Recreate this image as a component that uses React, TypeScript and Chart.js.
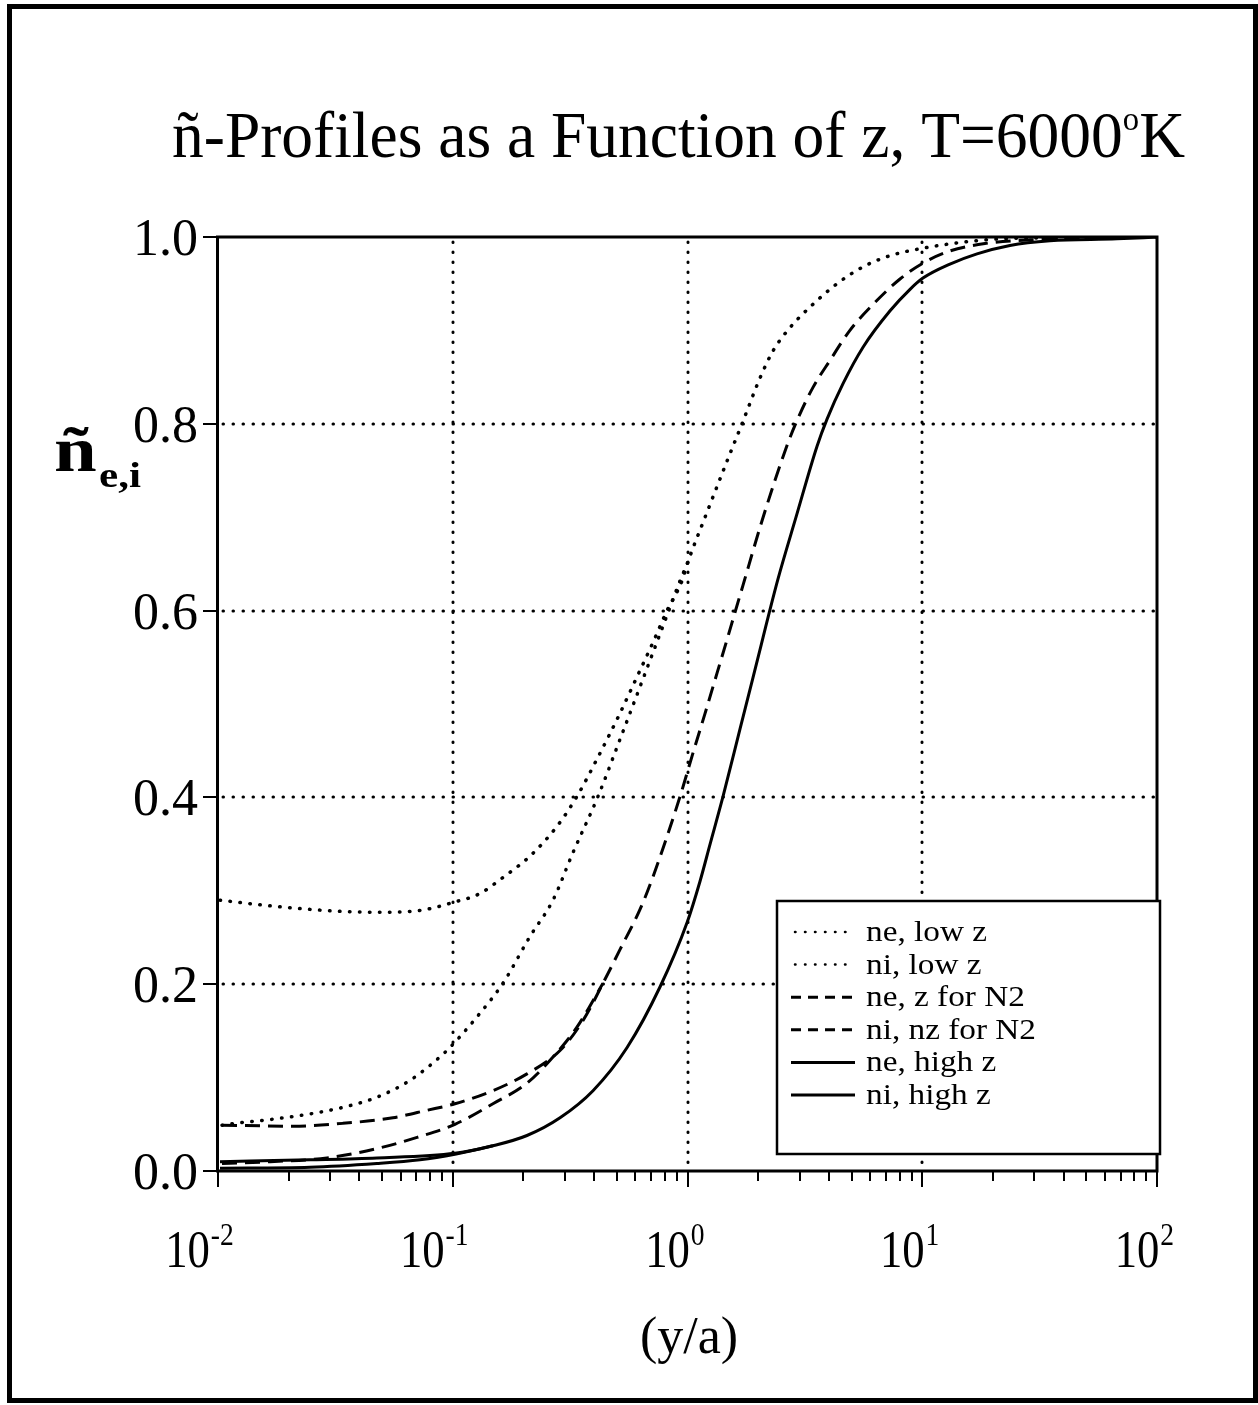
import React, { useEffect, useRef } from "react";
import { Chart, registerables } from "chart.js";

Chart.register(...registerables);

// ---------- data (x = y/a, value = ñ) ----------
// ni-series stop where they merge into the matching ne-series (identical beyond).
const neLowX = [0.0102, 0.0151, 0.0223, 0.0331, 0.0475, 0.0725, 0.102, 0.1305, 0.159, 0.213, 0.278, 0.338, 0.4115, 0.5155, 0.609, 0.713, 0.818, 0.948, 1.004, 1.188, 1.517, 1.707, 2.036, 2.313, 2.734, 3.325, 4.335, 5.594, 7.293, 10.07, 15.52, 21.43, 35.02, 100];
const neLowY = [0.290, 0.285, 0.281, 0.278, 0.277, 0.279, 0.288, 0.297, 0.312, 0.337, 0.369, 0.401, 0.441, 0.490, 0.529, 0.566, 0.600, 0.632, 0.652, 0.700, 0.768, 0.800, 0.849, 0.878, 0.903, 0.925, 0.950, 0.968, 0.980, 0.988, 0.995, 0.998, 0.999, 1.0];

const niLowX = [0.0104, 0.0110, 0.01784, 0.02723, 0.03648, 0.04753, 0.06573, 0.09082, 0.1022, 0.1268, 0.1636, 0.2132, 0.2673, 0.3253, 0.4156, 0.5155, 0.6466, 0.8184, 0.9296, 1.004];
const niLowY = [0.049, 0.050, 0.056, 0.063, 0.070, 0.079, 0.097, 0.125, 0.138, 0.165, 0.201, 0.251, 0.290, 0.341, 0.401, 0.462, 0.527, 0.595, 0.632, 0.652];

const neN2X = [0.0104, 0.02085, 0.03404, 0.05559, 0.07762, 0.1022, 0.1483, 0.2071, 0.2864, 0.3586, 0.4365, 0.5155, 0.6276, 0.7128, 0.9296, 1.045, 1.188, 1.336, 1.474, 1.593, 1.723, 2.076, 2.656, 2.957, 3.425, 4.048, 4.919, 6.29, 8.04, 10.07, 13.12, 18.49, 28.8, 100];
const neN2Y = [0.049, 0.048, 0.051, 0.057, 0.065, 0.072, 0.086, 0.104, 0.129, 0.161, 0.201, 0.237, 0.280, 0.315, 0.401, 0.444, 0.490, 0.533, 0.569, 0.598, 0.627, 0.696, 0.777, 0.806, 0.839, 0.868, 0.900, 0.930, 0.955, 0.972, 0.985, 0.993, 0.997, 1.0];

const niN2X = [0.0104, 0.01667, 0.02912, 0.04753, 0.07047, 0.1022, 0.1483, 0.2071, 0.2673, 0.3381, 0.4365];
const niN2Y = [0.008, 0.010, 0.014, 0.024, 0.036, 0.050, 0.072, 0.094, 0.122, 0.154, 0.201];

const neHighX = [0.0102, 0.02465, 0.04753, 0.1022, 0.1483, 0.2071, 0.2864, 0.3958, 0.5521, 0.7634, 0.996, 1.130, 1.248, 1.417, 1.673, 1.900, 2.097, 2.246, 2.430, 2.899, 3.563, 3.930, 4.597, 5.594, 7.293, 8.87, 10.07, 13.12, 17.11, 23.64, 35.02, 67.56, 100];
const neHighY = [0.010, 0.012, 0.014, 0.019, 0.027, 0.038, 0.057, 0.086, 0.132, 0.197, 0.266, 0.310, 0.350, 0.401, 0.473, 0.528, 0.571, 0.601, 0.634, 0.700, 0.776, 0.805, 0.843, 0.882, 0.921, 0.944, 0.956, 0.971, 0.982, 0.991, 0.996, 0.998, 1.0];

const niHighX = [0.0102, 0.02465, 0.04753, 0.07248, 0.1022, 0.1483];
const niHighY = [0.003, 0.004, 0.008, 0.012, 0.018, 0.027];

const legendLabels = ["ne, low z", "ni, low z", "ne, z for N2", "ni, nz for N2", "ne, high z", "ni, high z"];
const xTickExponents = [-2, -1, 0, 1, 2];
const xGridExponents = [-1, 0, 1];
const yTickValues = [0, 0.2, 0.4, 0.6, 0.8, 1.0];
const yGridValues = [0.2, 0.4, 0.6, 0.8];
const titleMain = "ñ-Profiles as a Function of z, T=6000";
const titleSup = "o";
const titleEnd = "K";
const xAxisTitle = "(y/a)";
const yAxisTitle = "ñ";
const yAxisSub = "e,i";

const SERIF = '"Liberation Serif", "Times New Roman", serif';
const DOT = [0.5, 9.5];
const DASH = [15, 8];

const pts = (xs: number[], ys: number[]) => xs.map((x, i) => ({ x, y: ys[i] }));

const seriesStyles = [
  { dash: DOT, cap: "round", width: 3.5 },
  { dash: DOT, cap: "round", width: 3.5 },
  { dash: DASH, cap: "butt", width: 3 },
  { dash: DASH, cap: "butt", width: 3 },
  { dash: [], cap: "butt", width: 3 },
  { dash: [], cap: "butt", width: 3 },
];

const decorPlugin = {
  id: "decor",
  beforeDraw(chart: any) {
    const ctx = chart.ctx;
    ctx.save();
    ctx.fillStyle = "#fff";
    ctx.fillRect(0, 0, chart.width, chart.height);
    ctx.restore();
  },
  beforeDatasetsDraw(chart: any) {
    const { ctx, chartArea: a } = chart;
    const xs = chart.scales.x;
    const ys = chart.scales.y;
    ctx.save();
    ctx.strokeStyle = "#000";
    ctx.lineWidth = 3;
    ctx.lineCap = "round";
    ctx.setLineDash([0.5, 9.5]);
    for (const e of xGridExponents) {
      const px = Math.round(xs.getPixelForValue(Math.pow(10, e)));
      ctx.beginPath();
      ctx.moveTo(px, a.top + 5);
      ctx.lineTo(px, a.bottom);
      ctx.stroke();
    }
    for (const v of yGridValues) {
      const py = Math.round(ys.getPixelForValue(v));
      ctx.beginPath();
      ctx.moveTo(a.left + 5, py);
      ctx.lineTo(a.right, py);
      ctx.stroke();
    }
    ctx.restore();
  },
  afterDatasetsDraw(chart: any) {
    const { ctx, chartArea: a } = chart;
    const xs = chart.scales.x;
    const ys = chart.scales.y;
    ctx.save();
    ctx.strokeStyle = "#000";
    ctx.fillStyle = "#000";
    ctx.setLineDash([]);

    // plot frame
    ctx.lineWidth = 3;
    ctx.strokeRect(a.left - 0.5, a.top, a.right - a.left + 0.5, a.bottom - a.top);

    // x ticks (outside, below)
    ctx.lineWidth = 2;
    for (let e = -2; e < 2; e++) {
      for (let m = 1; m <= 10; m++) {
        const v = m * Math.pow(10, e);
        const px = Math.round(xs.getPixelForValue(v));
        const major = m === 1 || m === 10;
        ctx.beginPath();
        ctx.moveTo(px, a.bottom);
        ctx.lineTo(px, a.bottom + (major ? 16 : 10));
        ctx.stroke();
      }
    }
    // y ticks (outside, left)
    for (const v of yTickValues) {
      const py = Math.round(ys.getPixelForValue(v));
      ctx.beginPath();
      ctx.moveTo(a.left - 15, py);
      ctx.lineTo(a.left, py);
      ctx.stroke();
    }

    // y tick labels
    ctx.font = `52px ${SERIF}`;
    ctx.textAlign = "right";
    ctx.textBaseline = "alphabetic";
    for (const v of yTickValues) {
      const py = ys.getPixelForValue(v);
      ctx.fillText(v.toFixed(1), a.left - 20, py + 18);
    }

    // x tick labels 10^n
    const hs = 0.86;
    for (const e of xTickExponents) {
      const px = xs.getPixelForValue(Math.pow(10, e));
      const sup = e < 0 ? "-" + Math.abs(e) : String(e);
      ctx.font = `52px ${SERIF}`;
      const w10 = ctx.measureText("10").width * hs;
      ctx.font = `32px ${SERIF}`;
      const wsup = ctx.measureText(sup).width * hs;
      const start = px - (e < 0 ? 19 : 13) - (w10 + wsup) / 2;
      ctx.textAlign = "left";
      ctx.save();
      ctx.translate(start, 1267);
      ctx.scale(hs, 1);
      ctx.font = `52px ${SERIF}`;
      ctx.fillText("10", 0, 0);
      ctx.font = `32px ${SERIF}`;
      ctx.fillText(sup, w10 / hs + 1, -22);
      ctx.restore();
    }

    // x axis title
    ctx.font = `52px ${SERIF}`;
    ctx.textAlign = "center";
    ctx.fillText(xAxisTitle, 689, 1353);

    // y axis title
    ctx.textAlign = "left";
    ctx.save();
    ctx.translate(54, 471);
    ctx.scale(1.2, 1);
    ctx.font = `bold 64px ${SERIF}`;
    ctx.fillText(yAxisTitle, 0, 0);
    const wn = ctx.measureText(yAxisTitle).width;
    ctx.font = `bold 36px ${SERIF}`;
    ctx.fillText(yAxisSub, wn + 2, 16);
    ctx.restore();

    // title
    ctx.font = `66px ${SERIF}`;
    const wMain = ctx.measureText(titleMain).width;
    const wK = ctx.measureText(titleEnd).width;
    ctx.font = `34px ${SERIF}`;
    const wSup = ctx.measureText(titleSup).width;
    const total = wMain + wSup + wK;
    const ths = (1185 - 172) / total;
    ctx.save();
    ctx.translate(172, 157);
    ctx.scale(ths, 1);
    ctx.font = `66px ${SERIF}`;
    ctx.fillText(titleMain, 0, 0);
    ctx.font = `34px ${SERIF}`;
    ctx.fillText(titleSup, wMain, -27);
    ctx.font = `66px ${SERIF}`;
    ctx.fillText(titleEnd, wMain + wSup, 0);
    ctx.restore();

    // legend box
    const L = { left: 777, top: 901, right: 1160, bottom: 1154 };
    ctx.fillStyle = "#fff";
    ctx.fillRect(L.left, L.top, L.right - L.left, L.bottom - L.top);
    ctx.lineWidth = 2.5;
    ctx.strokeRect(L.left, L.top, L.right - L.left, L.bottom - L.top);
    ctx.fillStyle = "#000";
    ctx.font = `29px ${SERIF}`;
    const lhs = 170 / ctx.measureText("ni, nz for N2").width;
    for (let i = 0; i < legendLabels.length; i++) {
      const cy = 932 + i * 32.6;
      ctx.save();
      ctx.lineWidth = i < 2 ? 2.5 : 3;
      ctx.lineCap = i < 2 ? "round" : "butt";
      ctx.setLineDash(i < 2 ? [0.5, 9.5] : i < 4 ? [10, 7] : []);
      ctx.beginPath();
      ctx.moveTo(i < 2 ? 795 : 791, cy);
      ctx.lineTo(855, cy);
      ctx.stroke();
      ctx.restore();
      ctx.save();
      ctx.translate(866, cy + 9);
      ctx.scale(lhs, 1);
      ctx.textAlign = "left";
      ctx.fillText(legendLabels[i], 0, 0);
      ctx.restore();
    }

    // outer border
    ctx.lineWidth = 5;
    ctx.strokeRect(9.5, 6.5, 1246, 1394);
    ctx.restore();
  },
};

export default function App() {
  const ref = useRef<HTMLCanvasElement | null>(null);
  useEffect(() => {
    document.body.style.margin = "0";
    const canvas = ref.current;
    if (!canvas) return;
    const data = [
      pts(neLowX, neLowY),
      pts(niLowX, niLowY),
      pts(neN2X, neN2Y),
      pts(niN2X, niN2Y),
      pts(neHighX, neHighY),
      pts(niHighX, niHighY),
    ];
    const chart = new Chart(canvas, {
      type: "scatter",
      data: {
        datasets: data.map((d, i) => ({
          label: legendLabels[i],
          data: d,
          showLine: true,
          borderColor: "#000",
          backgroundColor: "#000",
          borderWidth: seriesStyles[i].width,
          borderDash: seriesStyles[i].dash,
          borderCapStyle: seriesStyles[i].cap as any,
          pointRadius: 0,
          cubicInterpolationMode: "monotone" as const,
          fill: false,
        })),
      },
      options: {
        animation: false,
        responsive: false,
        devicePixelRatio: 1,
        layout: { padding: { left: 218, top: 237, right: 101, bottom: 234 } },
        plugins: { legend: { display: false }, tooltip: { enabled: false }, title: { display: false } },
        scales: {
          x: { type: "logarithmic", min: 0.01, max: 100, display: false },
          y: { type: "linear", min: 0, max: 1, display: false },
        },
      },
      plugins: [decorPlugin],
    });
    return () => chart.destroy();
  }, []);
  return (
    <div style={{ width: 1258, height: 1405, position: "relative" }}>
      <canvas ref={ref} width={1258} height={1405} style={{ display: "block" }} />
    </div>
  );
}
